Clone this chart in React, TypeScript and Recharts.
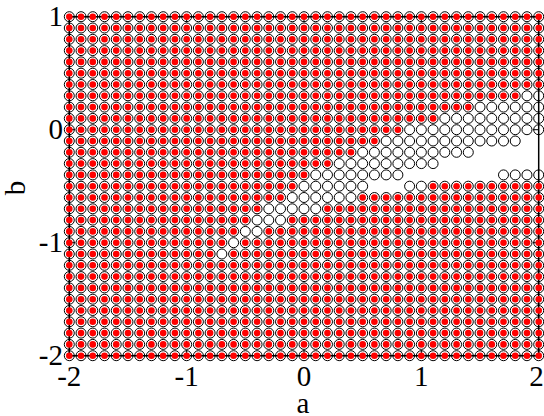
import React from "react";
import {
  ScatterChart,
  Scatter,
  XAxis,
  YAxis,
  ReferenceArea,
  ReferenceLine,
} from "recharts";

const FONT = '"Liberation Serif", "Times New Roman", serif';
const FONT_SIZE = 29;

const aValues = [
  -2, -1.9, -1.8, -1.7, -1.6, -1.5, -1.4, -1.3, -1.2, -1.1, -1, -0.9, -0.8, -0.7,
  -0.6, -0.5, -0.4, -0.3, -0.2, -0.1, 0, 0.1, 0.2, 0.3, 0.4, 0.5, 0.6, 0.7, 0.8,
  0.9, 1, 1.1, 1.2, 1.3, 1.4, 1.5, 1.6, 1.7, 1.8, 1.9, 2,
];
const bValues = [
  1, 0.9, 0.8, 0.7, 0.6, 0.5, 0.4, 0.3, 0.2, 0.1, 0, -0.1, -0.2, -0.3, -0.4, -0.5,
  -0.6, -0.7, -0.8, -0.9, -1, -1.1, -1.2, -1.3, -1.4, -1.5, -1.6, -1.7, -1.8, -1.9, -2,
];

// cells with a ring but no red dot: [b, a from, a to]
const openRuns = [
  [0.3, 1.9, 2],
  [0.2, 1.5, 2],
  [0.1, 1.2, 2],
  [0, 0.9, 2],
  [-0.1, 0.7, 1.8],
  [-0.2, 0.5, 1.4],
  [-0.3, 0.3, 1.1],
  [-0.4, 0.1, 0.8],
  [-0.4, 1.7, 2],
  [-0.5, 0, 0.5],
  [-0.5, 0.9, 1],
  [-0.6, -0.1, 0.4],
  [-0.7, -0.3, 0.1],
  [-0.8, -0.4, -0.2],
  [-0.9, -0.5, -0.4],
  [-1, -0.6, -0.6],
  [-1.1, -0.7, -0.7],
];

// cells with nothing drawn at all: [b, a from, a to]
const emptyRuns = [
  [-0.1, 1.9, 2],
  [-0.2, 1.5, 2],
  [-0.3, 1.2, 2],
  [-0.4, 0.9, 1.6],
  [-0.5, 0.6, 0.8],
];

const xTicks = [-2, -1, 0, 1, 2];
const yTicks = [-2, -1, 0, 1];

const inRuns = (runs: number[][], a: number, b: number) =>
  runs.some((r) => r[0] === b && a >= r[1] - 0.01 && a <= r[2] + 0.01);

const rings: { a: number; b: number }[] = [];
const dots: { a: number; b: number }[] = [];
bValues.forEach((b) => {
  aValues.forEach((a) => {
    if (inRuns(emptyRuns, a, b)) return;
    rings.push({ a, b });
    if (!inRuns(openRuns, a, b)) dots.push({ a, b });
  });
});

const Ring = (props: any) => (
  <circle cx={props.cx} cy={props.cy} r={5} fill="none" stroke="#000" strokeWidth={1} />
);
const Dot = (props: any) => (
  <circle cx={props.cx} cy={props.cy} r={3.3} fill="#ff0000" stroke="none" />
);

const textProps = { fontSize: FONT_SIZE, style: { fontFamily: FONT }, fill: "#000" };

const XTick = (props: any) => (
  <text x={Math.min(props.x, 536.5)} y={385.5} textAnchor="middle" {...textProps}>
    {props.payload.value}
  </text>
);
const YTick = (props: any) => (
  <text x={63} y={props.y + 9.5} textAnchor="end" {...textProps}>
    {props.payload.value}
  </text>
);
const XName = () => (
  <text x={303} y={413} textAnchor="middle" {...textProps}>
    a
  </text>
);
const YName = () => (
  <text x={25} y={188} textAnchor="middle" transform="rotate(-90 25 188)" {...textProps}>
    b
  </text>
);

export default function App() {
  return (
    <div style={{ position: "absolute", left: 0, top: 0, width: 544, height: 416, background: "#fff" }}>
      <ScatterChart
        width={544}
        height={416}
        margin={{ top: 16.7, right: 5.3, bottom: 0, left: 0 }}
      >
        <XAxis
          type="number"
          dataKey="a"
          domain={[-2, 2]}
          ticks={xTicks}
          height={60.3}
          axisLine={false}
          tickLine={false}
          tick={XTick}
          interval={0}
          label={XName}
        />
        <YAxis
          type="number"
          dataKey="b"
          domain={[-2, 1]}
          ticks={yTicks}
          width={69.3}
          axisLine={false}
          tickLine={false}
          tick={YTick}
          interval={0}
          label={YName}
        />
        <ReferenceArea x1={-2} x2={2} y1={-2} y2={1} fill="none" stroke="#000" strokeWidth={1.5} />
        {xTicks.map((t) => (
          <ReferenceLine key={`xb${t}`} segment={[{ x: t, y: -2 }, { x: t, y: -1.95 }]} stroke="#000" />
        ))}
        {xTicks.map((t) => (
          <ReferenceLine key={`xt${t}`} segment={[{ x: t, y: 1 }, { x: t, y: 0.95 }]} stroke="#000" />
        ))}
        {yTicks.map((t) => (
          <ReferenceLine key={`yl${t}`} segment={[{ x: -2, y: t }, { x: -1.95, y: t }]} stroke="#000" />
        ))}
        {yTicks.map((t) => (
          <ReferenceLine key={`yr${t}`} segment={[{ x: 2, y: t }, { x: 1.95, y: t }]} stroke="#000" />
        ))}
        <Scatter data={rings} shape={Ring} isAnimationActive={false} />
        <Scatter data={dots} shape={Dot} isAnimationActive={false} />
      </ScatterChart>
    </div>
  );
}
